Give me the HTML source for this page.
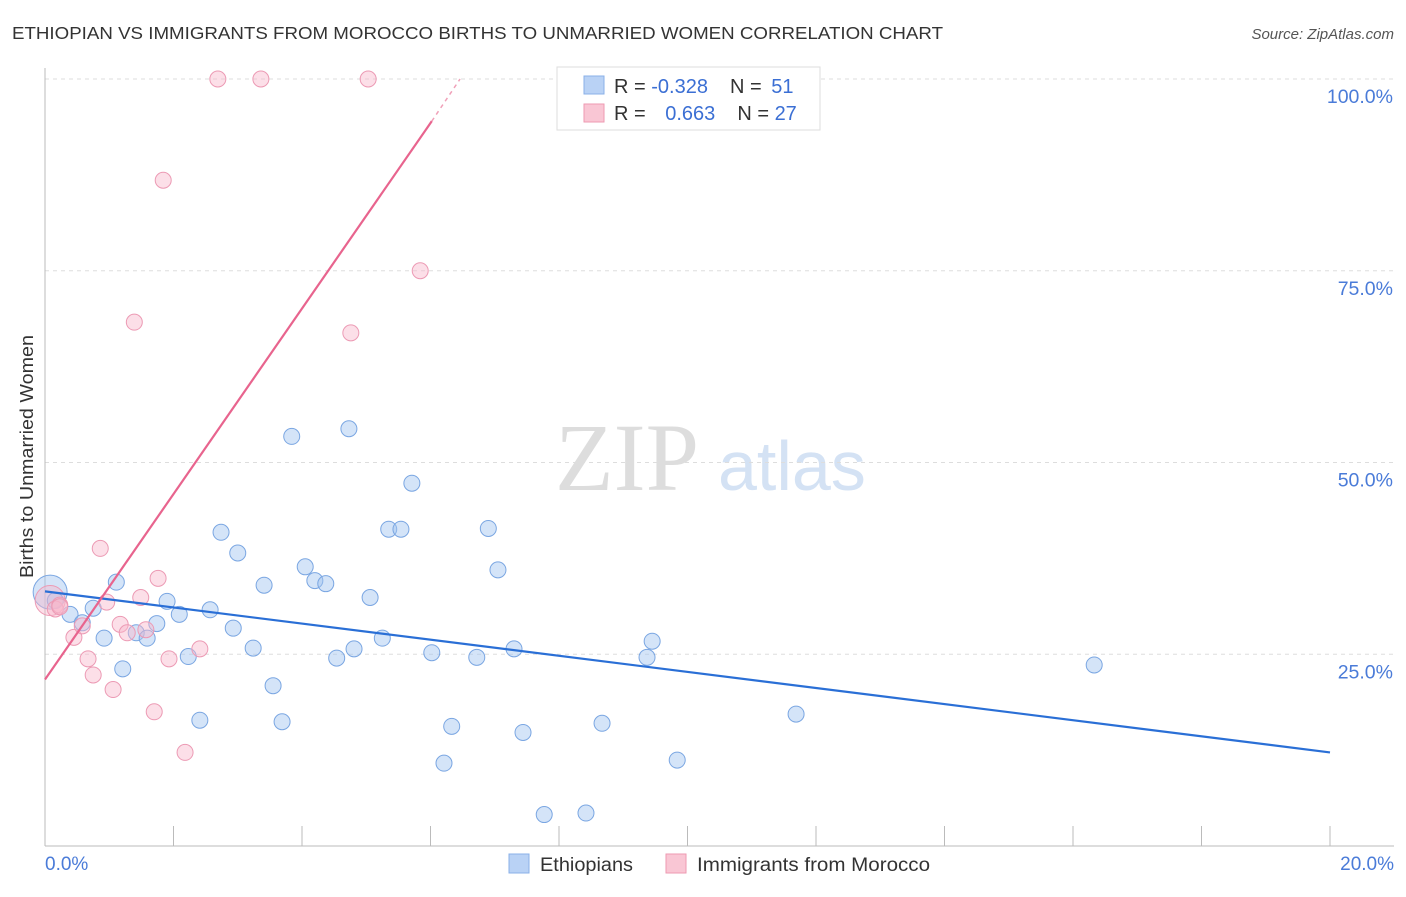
<!DOCTYPE html>
<html><head><meta charset="utf-8"><style>
body{margin:0;background:#fff;font-family:"Liberation Sans",sans-serif}
</style></head><body>
<svg id="c" width="1406" height="892" xmlns="http://www.w3.org/2000/svg" style="font-family:'Liberation Sans',sans-serif">
<text x="12" y="39" font-size="17.5" fill="#333" textLength="931" lengthAdjust="spacingAndGlyphs">ETHIOPIAN VS IMMIGRANTS FROM MOROCCO BIRTHS TO UNMARRIED WOMEN CORRELATION CHART</text>
<text x="1394" y="39" font-size="15" fill="#555" text-anchor="end" font-style="italic">Source: ZipAtlas.com</text>
<text x="33" y="578" font-size="18" fill="#333" textLength="243" lengthAdjust="spacingAndGlyphs" transform="rotate(-90 33 578)">Births to Unmarried Women</text>
<text x="555" y="490" font-size="96" fill="#ddd" font-family="Liberation Serif">ZIP</text>
<text x="718" y="490" font-size="70" fill="#d4e2f4">atlas</text>
<g id="grid"></g><g id="pts"></g><g id="lines"></g>
<g>
<rect x="557" y="67" width="263" height="63" fill="#fff" stroke="#ddd"/>
<rect x="584" y="76" width="20" height="18" fill="#b9d2f5" stroke="#8ab0e8"/>
<rect x="584" y="104" width="20" height="18" fill="#f9c6d4" stroke="#ee9ab2"/>
<text x="614" y="93" font-size="20" fill="#333">R = <tspan fill="#3b6fd4">-0.328</tspan><tspan dx="22">N = </tspan><tspan dx="4" fill="#3b6fd4">51</tspan></text>
<text x="614" y="120" font-size="20" fill="#333">R = <tspan dx="14" fill="#3b6fd4">0.663</tspan><tspan dx="22">N = </tspan><tspan fill="#3b6fd4">27</tspan></text>
</g>
<g>
<rect x="509" y="854" width="20" height="19" fill="#b9d2f5" stroke="#8ab0e8"/>
<text x="540" y="871" font-size="19" fill="#333" textLength="93" lengthAdjust="spacingAndGlyphs">Ethiopians</text>
<rect x="666" y="854" width="20" height="19" fill="#f9c6d4" stroke="#ee9ab2"/>
<text x="697" y="871" font-size="19" fill="#333" textLength="233" lengthAdjust="spacingAndGlyphs">Immigrants from Morocco</text>
</g>
</svg>
<script>
const yTicks=[25,50,75,100];
const yTickLabels=["25.0%","50.0%","75.0%","100.0%"];
const xTickLabels=["0.0%","20.0%"];
const ethX=[0.08,0.16,0.39,0.58,0.75,0.92,1.11,1.21,1.42,1.59,1.74,1.90,2.09,2.23,2.41,2.57,2.74,2.93,3.00,3.24,3.41,3.55,3.69,3.84,4.05,4.20,4.37,4.54,4.73,4.81,5.06,5.25,5.35,5.54,5.71,6.02,6.21,6.33,6.72,6.90,7.05,7.30,7.44,7.77,8.42,8.67,9.37,9.45,9.84,11.69,16.33];
const ethY=[33.1,32.0,30.2,29.1,31.0,27.1,34.4,23.1,27.8,27.1,29.0,31.9,30.2,24.7,16.4,30.8,40.9,28.4,38.2,25.8,34.0,20.9,16.2,53.4,36.4,34.6,34.2,24.5,54.4,25.7,32.4,27.1,41.3,41.3,47.3,25.2,10.8,15.6,24.6,41.4,36.0,25.7,14.8,4.1,4.3,16.0,24.6,26.7,11.2,17.2,23.6];
const morX=[0.08,0.16,0.23,0.45,0.58,0.67,0.75,0.86,0.96,1.06,1.17,1.28,1.39,1.49,1.57,1.70,1.76,1.84,1.93,2.18,2.41,2.69,3.36,5.03,5.84,4.76,0.23];
const morY=[32.0,30.9,31.4,27.2,28.7,24.4,22.3,38.8,31.8,20.4,28.9,27.8,68.3,32.4,28.2,17.5,34.9,86.8,24.4,12.2,25.7,100,100,100,75.0,66.9,31.2];
const ethTrendX=[0,20], ethTrendY=[33.2,12.2];
const morTrendX=[0,6.02,6.46], morTrendY=[21.7,94.5,100];
const X=v=>45+v*64.25, Y=v=>846-v*7.67;
const NS='http://www.w3.org/2000/svg';
function mk(t,a,p){const e=document.createElementNS(NS,t);for(const k in a)e.setAttribute(k,a[k]);p.appendChild(e);return e;}
const g=document.getElementById('grid');
yTicks.forEach((t,i)=>{
 const l=mk('line',{x1:45,x2:1394,y1:Y(t),y2:Y(t),stroke:'#ddd','stroke-dasharray':'4 4'},g);
 
 
 const tx=mk('text',{x:1393,y:Y(t)+24,'font-size':19.5,fill:'#4a7bd8','text-anchor':'end'},g);
 tx.textContent=yTickLabels[i];
 
 
});
mk('line',{x1:45,x2:45,y1:68,y2:846,stroke:'#bbb'},g);
mk('line',{x1:45,x2:1394,y1:846,y2:846,stroke:'#bbb'},g);
for(let i=1;i<=10;i++){mk('line',{x1:X(i*2),x2:X(i*2),y1:826,y2:846,stroke:'#bbb'},g);}
[[0,45,'start'],[20,1394,'end']].forEach((d,i)=>{
 const tx=mk('text',{x:d[1],y:870,'font-size':19,fill:'#4a7bd8','text-anchor':d[2]},g);
 tx.textContent=xTickLabels[i];
 
 
});
const p=document.getElementById('pts');
ethX.forEach((x,i)=>{
 const c=mk('circle',{cx:X(x),cy:Y(ethY[i]),r:i==0?17:8,fill:'rgba(160,195,240,0.45)',stroke:'#7aa6e2','stroke-width':1},p);
 
 
});
morX.forEach((x,i)=>{
 const c=mk('circle',{cx:X(x),cy:Y(morY[i]),r:i==0?15:8,fill:'rgba(248,185,205,0.45)',stroke:'#ec9ab4','stroke-width':1},p);
 
 
});
const L=document.getElementById('lines');
const b=mk('line',{x1:X(ethTrendX[0]),y1:Y(ethTrendY[0]),x2:X(ethTrendX[1]),y2:Y(ethTrendY[1]),stroke:'#2a6fd6','stroke-width':2.2},L);


const m=mk('line',{x1:X(morTrendX[0]),y1:Y(morTrendY[0]),x2:X(morTrendX[1]),y2:Y(morTrendY[1]),stroke:'#e8648e','stroke-width':2.2},L);


const md=mk('line',{x1:X(morTrendX[1]),y1:Y(morTrendY[1]),x2:X(morTrendX[2]),y2:Y(morTrendY[2]),stroke:'#f0a0b8','stroke-width':1.5,'stroke-dasharray':'4 4'},L);


</script>
</body></html>
